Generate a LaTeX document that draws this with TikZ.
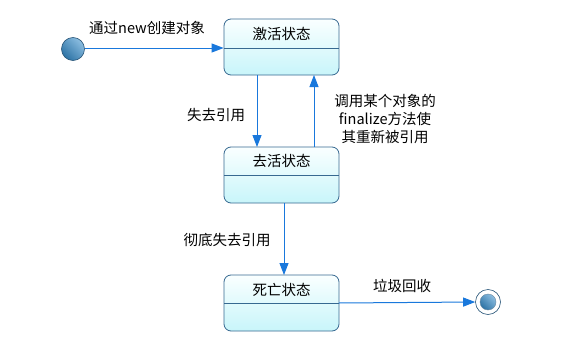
\documentclass[tikz,border=0pt]{standalone}
\usepackage{fontspec}
\setmainfont{Noto Sans CJK SC}
\usetikzlibrary{arrows.meta,shadings}
\definecolor{lineblue}{RGB}{25,120,220}
\definecolor{boxborder}{RGB}{55,105,145}
\definecolor{boxtop}{RGB}{250,255,255}
\definecolor{boxbot}{RGB}{200,245,250}
\definecolor{balllight}{RGB}{140,190,225}
\definecolor{balldark}{RGB}{45,115,165}
\definecolor{ballrim}{RGB}{40,85,120}
\tikzset{
  statebox/.style={draw=boxborder, line width=0.8pt, rounded corners=7pt, top color=boxtop, bottom color=boxbot, minimum width=115pt, minimum height=56pt, inner sep=0pt},
  conn/.style={draw=lineblue, line width=1pt, -{Triangle[length=12pt,width=9pt]}},
  lbl/.style={font=\fontsize{14.5pt}{18pt}\selectfont, inner sep=0pt, align=center},
  ballsh/.style={left color=balllight, right color=balldark, shading angle=-45},
}
\begin{document}
\begin{tikzpicture}[x=1pt,y=-1pt]
\useasboundingbox (0,0) rectangle (576,348);
\fill[white] (0,0) rectangle (576,348);
% states
\node[statebox] (s1) at (281.5,47) {};
\node[statebox] (s2) at (281.5,175) {};
\node[statebox] (s3) at (281.5,303) {};
\draw[boxborder, line width=0.8pt] (224,48) -- (339,48);
\draw[boxborder, line width=0.8pt] (224,175.5) -- (339,175.5);
\draw[boxborder, line width=0.8pt] (224,303) -- (339,303);
\node[lbl] at (281.5,34) {激活状态};
\node[lbl] at (281.5,161) {去活状态};
\node[lbl] at (281.5,290) {死亡状态};
% initial
\shade[ballsh] (73,49) circle (11.5);
\draw[ballrim, line width=0.6pt] (73,49) circle (11.5);
\coordinate (init) at (84.5,48);
% final
\node[draw=ballrim, line width=0.6pt, circle, minimum size=25pt, inner sep=0pt, fill=white] (fin) at (488,302) {};
\shade[ballsh] (488,302) circle (8);
\draw[ballrim!70, line width=0.4pt] (488,302) circle (8);
% connectors
\draw[conn] (init) -- (s1.west |- init);
\draw[conn] (257,75) -- (257,147);
\draw[conn] (314,147) -- (314,75);
\draw[conn] (284,203) -- (284,275);
\draw[conn] (339,303) -- (fin.west);
% labels
\node[lbl] at (147,28) {通过new创建对象};
\node[lbl] at (216,115) {失去引用};
\node[lbl] at (385,119) {调用某个对象的\\finalize方法使\\其重新被引用};
\node[lbl] at (227,240) {彻底失去引用};
\node[lbl] at (402,286) {垃圾回收};
\end{tikzpicture}
\end{document}
